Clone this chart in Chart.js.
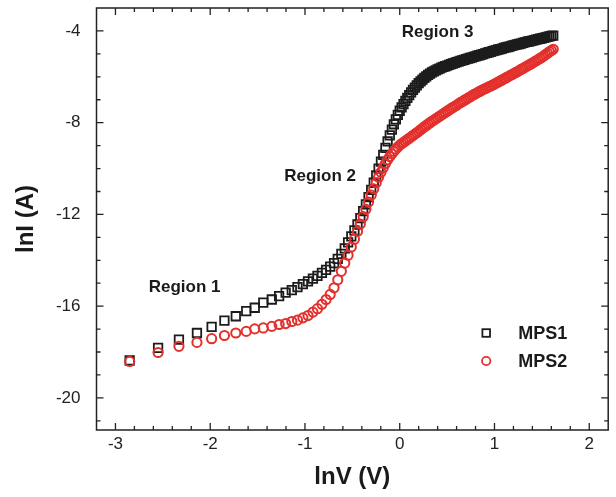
<!DOCTYPE html>
<html>
<head>
<meta charset="utf-8">
<script src="https://cdn.jsdelivr.net/npm/chart.js@4.4.0/dist/chart.umd.min.js"></script>
<style>
  html, body { margin: 0; padding: 0; background: #fff; }
</style>
</head>
<body>
<canvas id="chart" width="616" height="497"></canvas>
<script>
// ln V values (shared by both samples)
const lnV = [
  -2.85, -2.55, -2.33, -2.14, -1.985, -1.85, -1.73, -1.62, -1.53, -1.44, -1.35,
  -1.273, -1.204, -1.139, -1.079, -1.022, -0.968, -0.916, -0.868, -0.821, -0.777,
  -0.734, -0.693, -0.654, -0.616, -0.580, -0.545, -0.511, -0.478, -0.446, -0.416,
  -0.386, -0.357, -0.329, -0.301, -0.274, -0.248, -0.223,
  -0.198, -0.174, -0.151, -0.128, -0.105, -0.083, -0.062, -0.041, -0.020, 0,
  0.02, 0.04, 0.06, 0.08, 0.10, 0.12, 0.14, 0.16, 0.18, 0.20,
  0.22, 0.24, 0.26, 0.28, 0.30, 0.32, 0.34, 0.36, 0.38, 0.40,
  0.42, 0.44, 0.46, 0.48, 0.50, 0.52, 0.54, 0.56, 0.58, 0.60,
  0.62, 0.64, 0.66, 0.68, 0.70, 0.72, 0.74, 0.76, 0.78, 0.80,
  0.82, 0.84, 0.86, 0.88, 0.90, 0.92, 0.94, 0.96, 0.98, 1.00,
  1.02, 1.04, 1.06, 1.08, 1.10, 1.12, 1.14, 1.16, 1.18, 1.20,
  1.22, 1.24, 1.26, 1.28, 1.30, 1.32, 1.34, 1.36, 1.38, 1.40,
  1.42, 1.44, 1.46, 1.48, 1.50, 1.52, 1.54, 1.56, 1.58, 1.60, 1.62
];

// ln I for MPS1 (black squares)
const mps1 = [
  -18.37, -17.82, -17.46, -17.17, -16.90, -16.63, -16.44, -16.22, -16.07, -15.85, -15.71,
  -15.56, -15.41, -15.30, -15.17, -15.04, -14.92, -14.80, -14.68, -14.55, -14.42,
  -14.28, -14.12, -13.94, -13.72, -13.48, -13.22, -12.96, -12.70, -12.44, -12.16,
  -11.86, -11.56, -11.25, -10.93, -10.62, -10.30, -10.00,
  -9.70, -9.40, -9.10, -8.82, -8.55, -8.30, -8.07, -7.86, -7.66, -7.48,
  -7.33, -7.19, -7.05, -6.92, -6.80, -6.68, -6.57, -6.47, -6.37, -6.28,
  -6.20, -6.12, -6.05, -5.98, -5.92, -5.86, -5.81, -5.76, -5.72, -5.68,
  -5.64, -5.60, -5.57, -5.54, -5.51, -5.48, -5.45, -5.42, -5.39, -5.36,
  -5.34, -5.31, -5.28, -5.26, -5.23, -5.21, -5.18, -5.16, -5.13, -5.11,
  -5.08, -5.06, -5.03, -5.01, -4.98, -4.96, -4.93, -4.91, -4.88, -4.86,
  -4.84, -4.81, -4.79, -4.77, -4.74, -4.72, -4.70, -4.68, -4.65, -4.63,
  -4.61, -4.59, -4.57, -4.55, -4.52, -4.50, -4.48, -4.46, -4.44, -4.42,
  -4.40, -4.38, -4.36, -4.34, -4.32, -4.30, -4.28, -4.26, -4.24, -4.22, -4.20
];

// ln I for MPS2 (red circles)
const mps2 = [
  -18.41, -18.02, -17.75, -17.58, -17.42, -17.28, -17.17, -17.10, -16.99, -16.95, -16.88,
  -16.80, -16.76, -16.67, -16.61, -16.51, -16.41, -16.26, -16.11, -15.92, -15.71,
  -15.49, -15.20, -14.85, -14.48, -14.12, -13.78, -13.42, -13.08, -12.74, -12.42,
  -12.10, -11.78, -11.46, -11.16, -10.88, -10.62, -10.38,
  -10.16, -9.96, -9.78, -9.62, -9.48, -9.36, -9.25, -9.15, -9.06, -8.98,
  -8.92, -8.86, -8.80, -8.74, -8.68, -8.62, -8.56, -8.50, -8.44, -8.38,
  -8.31, -8.25, -8.18, -8.12, -8.06, -8.00, -7.94, -7.89, -7.83, -7.78,
  -7.72, -7.67, -7.61, -7.56, -7.50, -7.45, -7.39, -7.34, -7.29, -7.24,
  -7.18, -7.13, -7.08, -7.03, -6.98, -6.93, -6.88, -6.83, -6.78, -6.74,
  -6.69, -6.65, -6.60, -6.56, -6.52, -6.48, -6.44, -6.40, -6.36, -6.32,
  -6.27, -6.23, -6.18, -6.14, -6.09, -6.05, -6.00, -5.96, -5.91, -5.87,
  -5.82, -5.78, -5.73, -5.68, -5.64, -5.59, -5.54, -5.49, -5.45, -5.40,
  -5.35, -5.30, -5.25, -5.20, -5.15, -5.09, -5.03, -4.97, -4.91, -4.86, -4.80
];

const seriesNames = ['MPS1', 'MPS2'];
const xTicks = [-3, -2, -1, 0, 1, 2];
const yTicks = [-20, -16, -12, -8, -4];

const regionLabels = ['Region 1', 'Region 2', 'Region 3'];
const regionX = [-2.27, -0.84, 0.40];
const regionY = [-15.19, -10.35, -4.06];

const BLACK = '#1c1c1c';
const RED = '#e3302d';
const FONT = "'Liberation Sans', Arial, sans-serif";

const toPoints = ys => lnV.map((x, i) => ({ x, y: ys[i] }));

// frame + inward ticks on all four sides, region labels, legend
const framePlugin = {
  id: 'frame',
  afterDraw(chart) {
    const { ctx, chartArea: a, scales: { x, y } } = chart;
    ctx.save();
    ctx.strokeStyle = '#222';
    ctx.lineWidth = 1.5;
    ctx.strokeRect(a.left, a.top, a.right - a.left, a.bottom - a.top);
    ctx.lineWidth = 1.3;
    ctx.beginPath();
    for (let k = -16; k <= 11; k++) {
      const v = k / 5;
      const px = x.getPixelForValue(v);
      if (px < a.left + 1 || px > a.right - 1) continue;
      const len = (k % 5 === 0) ? 7 : 4;
      ctx.moveTo(px, a.bottom); ctx.lineTo(px, a.bottom - len);
      ctx.moveTo(px, a.top); ctx.lineTo(px, a.top + len);
    }
    for (let v = -21; v <= -3; v++) {
      const py = y.getPixelForValue(v);
      if (py < a.top + 1 || py > a.bottom - 1) continue;
      const len = (v % 4 === 0) ? 7 : 4;
      ctx.moveTo(a.left, py); ctx.lineTo(a.left + len, py);
      ctx.moveTo(a.right, py); ctx.lineTo(a.right - len, py);
    }
    ctx.stroke();

    ctx.fillStyle = '#1a1a1a';
    ctx.font = 'bold 17px ' + FONT;
    ctx.textAlign = 'center';
    ctx.textBaseline = 'middle';
    regionLabels.forEach((t, i) => {
      ctx.fillText(t, x.getPixelForValue(regionX[i]), y.getPixelForValue(regionY[i]));
    });

    const lx = a.right - 122;
    const ly = [a.top + 325, a.top + 353];
    ctx.lineWidth = 1.8;
    ctx.strokeStyle = BLACK;
    ctx.strokeRect(lx - 3.8, ly[0] - 3.8, 7.6, 7.6);
    ctx.strokeStyle = RED;
    ctx.beginPath();
    ctx.arc(lx, ly[1], 4.2, 0, Math.PI * 2);
    ctx.stroke();
    ctx.font = 'bold 18px ' + FONT;
    ctx.textAlign = 'left';
    ctx.fillStyle = '#1a1a1a';
    seriesNames.forEach((n, i) => ctx.fillText(n, lx + 32, ly[i] + 1));
    ctx.restore();
  }
};

const ctx = document.getElementById('chart').getContext('2d');
new Chart(ctx, {
  type: 'scatter',
  data: {
    datasets: [{
      label: seriesNames[0],
      data: toPoints(mps1),
      pointStyle: 'rect',
      pointRadius: 6,
      borderColor: BLACK,
      backgroundColor: 'rgba(0,0,0,0)',
      borderWidth: 1.8,
      order: 1
    }, {
      label: seriesNames[1],
      data: toPoints(mps2),
      pointStyle: 'circle',
      pointRadius: 4.6,
      borderColor: RED,
      backgroundColor: 'rgba(0,0,0,0)',
      borderWidth: 2,
      order: 0
    }]
  },
  options: {
    responsive: false,
    animation: false,
    layout: { padding: { top: 8, right: 6.5, left: 0, bottom: 0 } },
    plugins: {
      legend: { display: false },
      tooltip: { enabled: false }
    },
    scales: {
      x: {
        type: 'linear',
        min: -3.2,
        max: 2.2,
        afterBuildTicks: s => { s.ticks = xTicks.map(v => ({ value: v })); },
        afterFit: s => { s.height = 67; s.paddingLeft = 0; s.paddingRight = 0; },
        grid: { display: false, drawTicks: false },
        border: { display: false },
        ticks: { color: '#222', padding: 4, font: { family: FONT, size: 17 } },
        title: {
          display: true,
          text: 'lnV (V)',
          color: '#1a1a1a',
          padding: { top: 0, bottom: 5 },
          font: { family: FONT, size: 24, weight: 'bold' }
        }
      },
      y: {
        type: 'linear',
        min: -21.4,
        max: -3,
        afterBuildTicks: s => { s.ticks = yTicks.map(v => ({ value: v })); },
        afterFit: s => { s.width = 96.5; s.paddingTop = 0; s.paddingBottom = 0; },
        grid: { display: false, drawTicks: false },
        border: { display: false },
        ticks: { color: '#222', padding: 16, font: { family: FONT, size: 17 } },
        title: {
          display: true,
          text: 'lnI (A)',
          color: '#1a1a1a',
          padding: { top: 12, bottom: 0 },
          font: { family: FONT, size: 24, weight: 'bold' }
        }
      }
    }
  },
  plugins: [framePlugin]
});
</script>
</body>
</html>
